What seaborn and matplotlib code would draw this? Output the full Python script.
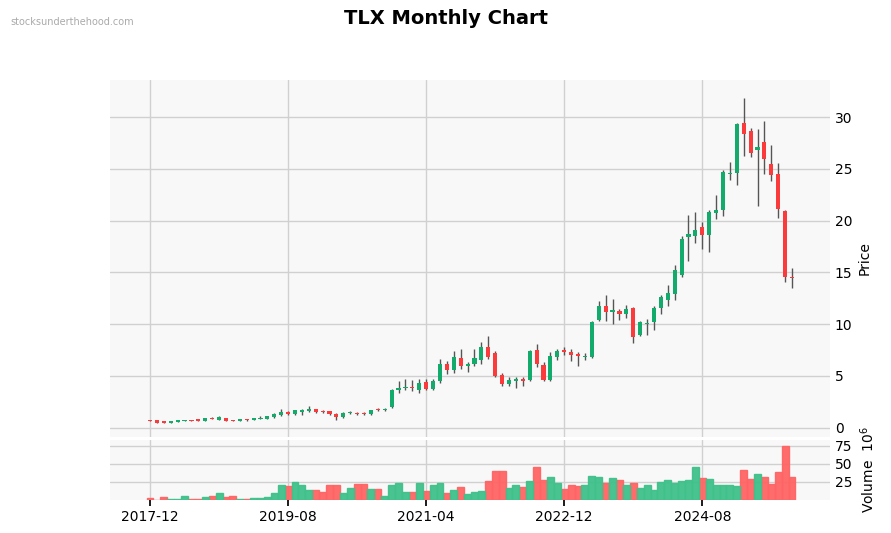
import numpy as np
import pandas as pd
import matplotlib
matplotlib.use("Agg")
import matplotlib.pyplot as plt
import seaborn as sns

months = pd.date_range("2017-12-01", periods=94, freq="MS")
opens = [.68,.70,.55,.50,.55,.65,.70,.70,.65,.85,.75,.90,.70,.65,.80,.75,.85,.85,1.0,1.2,
         1.5,1.3,1.5,1.6,1.8,1.6,1.6,1.35,1.0,1.4,1.45,1.45,1.3,1.8,1.7,2.0,3.6,3.8,3.9,3.6,
         4.4,3.7,4.5,6.2,5.6,6.75,6.0,6.2,6.5,7.8,7.2,5.1,4.2,4.5,4.75,4.6,7.55,6.1,4.65,6.85,
         7.5,7.35,7.15,6.8,6.85,10.4,11.75,11.2,11.25,11.0,11.6,9.0,10.0,10.2,11.6,12.35,12.9,14.8,18.4,18.5,
         19.4,18.65,20.7,21.0,24.5,24.6,29.4,28.7,26.8,27.6,25.5,24.55,20.9,14.6]
closes = [.66,.50,.48,.60,.70,.73,.65,.68,.92,.83,1.0,.65,.65,.80,.72,.92,.95,1.1,1.3,1.5,
          1.3,1.7,1.7,1.8,1.5,1.5,1.3,1.0,1.45,1.5,1.3,1.3,1.7,1.7,1.8,3.6,3.85,3.95,3.8,4.3,
          3.7,4.55,6.2,5.6,6.85,6.0,6.1,6.7,7.8,6.8,5.0,4.2,4.65,4.75,4.5,7.45,6.2,4.65,6.95,7.45,
          7.3,7.05,6.95,6.95,10.2,11.75,11.2,11.35,11.0,11.45,8.8,10.2,10.05,11.6,12.6,13.0,15.2,18.25,18.7,19.1,
          18.65,20.8,21.0,24.75,24.65,29.3,28.4,26.5,27.1,26.0,24.4,21.1,14.6,14.45]
highs = [.72,.72,.60,.65,.75,.78,.75,.75,.95,1.0,1.1,.92,.75,.85,.85,.98,1.1,1.15,1.4,1.85,
         1.6,1.75,1.85,2.05,1.85,1.7,1.65,1.4,1.5,1.6,1.55,1.55,1.75,1.9,1.9,3.7,4.5,4.7,4.6,4.7,
         4.75,4.7,6.6,6.4,7.4,7.6,6.3,7.6,8.3,8.9,7.4,5.3,4.9,4.9,4.9,7.5,8.1,6.3,7.3,7.6,
         7.8,7.6,7.3,7.2,10.3,12.2,12.8,12.4,11.5,11.9,11.7,10.3,10.5,11.8,12.8,13.8,15.7,18.5,20.6,20.8,
         19.9,21.0,22.5,24.9,25.7,29.4,31.9,29.0,28.9,29.6,27.3,25.6,21.0,15.4]
lows = [.64,.48,.44,.46,.52,.62,.62,.65,.62,.80,.72,.60,.62,.62,.68,.72,.82,.82,.95,1.15,
        1.25,1.25,1.2,1.55,1.45,1.45,1.25,.75,.95,1.35,1.25,1.25,1.25,1.65,1.65,1.9,3.4,3.6,3.5,3.4,
        3.6,3.6,4.3,5.2,5.3,5.7,5.4,6.0,6.2,6.6,4.9,4.0,4.0,3.8,4.0,4.5,5.9,4.5,4.5,6.5,
        7.0,6.4,6.0,6.5,6.7,10.3,10.3,10.0,10.4,10.6,8.2,8.9,9.0,9.4,11.0,11.8,12.3,14.6,16.1,17.8,
        17.3,17.0,20.2,20.5,23.9,23.5,26.3,26.2,21.4,24.5,23.8,20.3,14.1,13.5]
volumes = [3,0.5,4.5,1.5,1.5,6,1.5,1.5,4.5,6,9,4.5,6,1.5,1,3,3,4.5,9,21,
           19.5,25,21,13.5,13.5,10.5,21,21,9,16.5,22.5,22.5,15,15,6,21,24,10.5,10.5,24,
           12,20,23,9,14,18,8,11,12,25.5,40,40,17,21,18,25.5,45.5,27,32,23,
           14.5,21,19,21,33.5,32,24,31,28,21,24,17,21,14,25,27,23,25.5,27,46,
           30.5,29,20,21,21,19,41,29,36,32,22,39,74,32]

df = pd.DataFrame({"date": months, "open": opens, "close": closes,
                   "high": highs, "low": lows, "volume": volumes})
df["idx"] = np.arange(len(df))
df["dir"] = np.where(df["close"] >= df["open"], "up", "down")

sns.set_theme(style="whitegrid")
fig = plt.figure(figsize=(8.91, 5.33), dpi=100)
ax = fig.add_axes([110/891, 1-437/533, 720/891, 357/533])
axv = fig.add_axes([110/891, 1-500/533, 720/891, 60/533], sharex=ax)

cup, cdn = "#12ab6c", "#fb3b3b"
for a in (ax, axv):
    a.set_facecolor("#f8f8f8")
    a.grid(True, color="#d0d0d0", linewidth=1)
    for s in a.spines.values():
        s.set_visible(False)

ax.vlines(df["idx"], df["low"], df["high"], color="#555555", linewidth=1, zorder=2)
cols = [cup if d == "up" else cdn for d in df["dir"]]
body = (df["close"] - df["open"]).abs().clip(lower=0.12)
ax.bar(df["idx"], body, bottom=np.minimum(df["open"], df["close"]), width=0.6,
       color=cols, zorder=3, linewidth=0)

sns.barplot(data=df, x="idx", y="volume", hue="dir", palette={"up": "#3fc18a", "down": "#ff6464"},
            native_scale=True, dodge=False, width=1.0, ax=axv, legend=False,
            edgecolor=None, alpha=0.95, saturation=1)
for p in axv.patches:
    p.set_edgecolor(p.get_facecolor())

ax.set_xlim(-5.8, 98.5)
ax.set_ylim(-0.9, 33.6)
axv.set_ylim(0, 82.7)
ax.yaxis.tick_right(); ax.yaxis.set_label_position("right")
axv.yaxis.tick_right(); axv.yaxis.set_label_position("right")
ax.set_yticks([0, 5, 10, 15, 20, 25, 30])
axv.set_yticks([25, 50, 75])
ax.set_ylabel("Price", fontsize=10, color="black")
axv.set_ylabel("Volume  $10^6$", fontsize=10, color="black")
ax.tick_params(labelbottom=False, length=0, labelsize=10, labelcolor="black")
tick_pos = [0, 20, 40, 60, 80]
axv.set_xticks(tick_pos)
axv.set_xticklabels([months[i].strftime("%Y-%m") for i in tick_pos], fontsize=10)
axv.tick_params(axis="x", length=4, color="black", bottom=True, labelcolor="black")
axv.tick_params(axis="y", length=0, labelsize=10, labelcolor="black")
axv.set_xlabel("")
ax.set_xlabel("")

fig.text(0.5, 0.965, "TLX Monthly Chart", ha="center", va="center", fontsize=14,
         fontweight="bold", color="black")
fig.text(10/891, 1-22/533, "stocksunderthehood.com", fontsize=7, color="#aaaaaa", va="center")
fig.savefig("out.png", dpi=100)
